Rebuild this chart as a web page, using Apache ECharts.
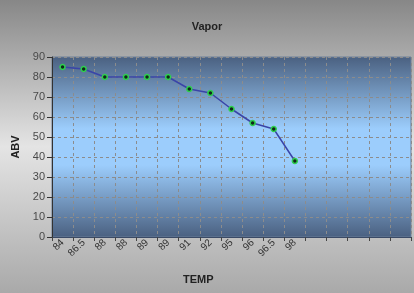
<!DOCTYPE html>
<html>
<head>
<meta charset="utf-8">
<script src="https://cdn.jsdelivr.net/npm/echarts@6/dist/echarts.min.js"></script>
<style>
  html, body { margin: 0; padding: 0; }
  #chart { width: 414px; height: 293px; }
</style>
</head>
<body>
<div id="chart"></div>
<script>
// temperature readings (empty slots are unused categories on the axis)
const temps = ['84', '86.5', '88', '88', '89', '89', '91', '92', '95', '96', '96.5', '98', '', '', '', '', '']
const abv = [85, 84, 80, 80, 80, 80, 74, 72, 64, 57, 54, 38]
const yTicks = { min: 0, max: 90, interval: 10 }

const chart = echarts.init(document.getElementById('chart'))

const bg = new echarts.graphic.LinearGradient(0, 0, 0, 1, [
  { offset: 0, color: '#878787' },
  { offset: 0.5, color: '#e4e4e4' },
  { offset: 1, color: '#a9a9a9' },
])
const plotBg = new echarts.graphic.LinearGradient(0, 0, 0, 1, [
  { offset: 0, color: '#4a6080' },
  { offset: 0.4, color: '#9ccdfc' },
  { offset: 0.6, color: '#9ccdfc' },
  { offset: 1, color: '#4a6080' },
])

const dashed = { lineStyle: { type: [3, 3], color: '#8c8c8c', width: 1 } }

chart.setOption({
  animation: false,
  backgroundColor: bg,
  textStyle: { fontFamily: 'Liberation Sans, Arial, sans-serif' },
  title: [
    {
      text: 'Vapor',
      left: 'center',
      top: 16,
      textStyle: { fontSize: 11, fontWeight: 'bold', color: '#222' },
    },
    {
      text: 'TEMP',
      left: 178,
      top: 269,
      textStyle: { fontSize: 11, fontWeight: 'bold', color: '#222' },
    },
  ],
  grid: {
    left: 52,
    right: 3,
    top: 57,
    bottom: 56,
    show: true,
    backgroundColor: plotBg,
    borderColor: '#6b7f99',
    borderWidth: 1,
  },
  xAxis: {
    type: 'category',
    data: temps,
    boundaryGap: true,
    axisLine: { lineStyle: { color: '#3a4a66', width: 1 } },
    axisTick: { show: true, length: 4, lineStyle: { color: '#444' } },
    axisLabel: {
      rotate: 45,
      interval: 0,
      fontSize: 10,
      color: '#333',
      margin: 4,
    },
    splitLine: { show: true, ...dashed },
  },
  yAxis: {
    type: 'value',
    min: yTicks.min,
    max: yTicks.max,
    interval: yTicks.interval,
    name: 'ABV',
    nameLocation: 'middle',
    nameGap: 30,
    nameRotate: 90,
    nameTextStyle: { fontSize: 11, fontWeight: 'bold', color: '#222' },
    axisLine: { show: true, lineStyle: { color: '#333' } },
    axisTick: { show: true, length: 5, lineStyle: { color: '#333' } },
    axisLabel: { fontSize: 11, color: '#4a4a4a', margin: 7 },
    splitLine: { show: true, ...dashed },
  },
  series: [{
    type: 'line',
    data: abv,
    symbol: 'circle',
    symbolSize: 5,
    lineStyle: { color: '#3a44a8', width: 1.5 },
    itemStyle: { color: '#0f2a1a', borderColor: '#2fd04f', borderWidth: 1.5 },
  }],
})
</script>
</body>
</html>
